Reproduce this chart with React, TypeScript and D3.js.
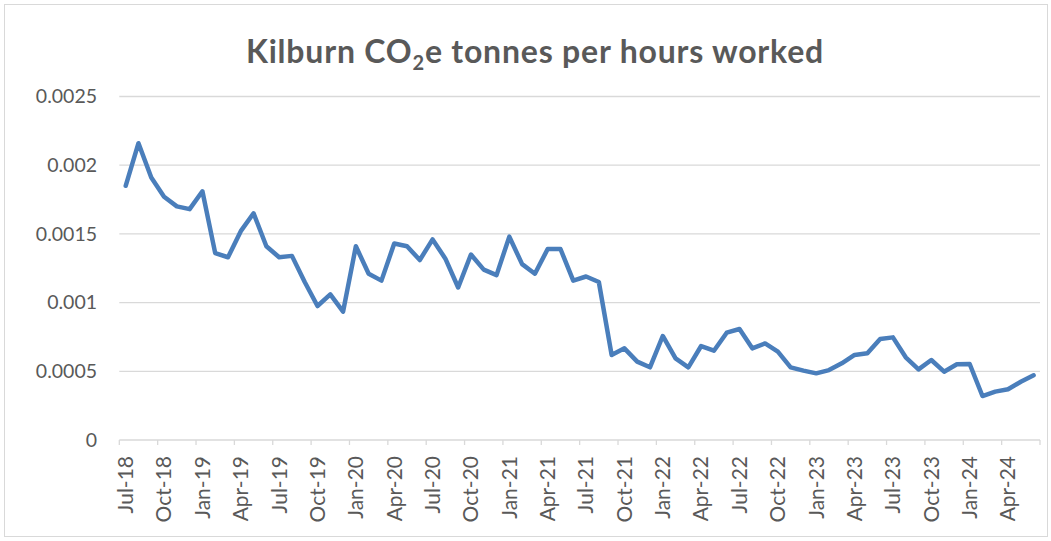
import React from "react";
import * as d3 from "d3";

const title = "Kilburn CO";
const titleSub = "2";
const titleRest = "e tonnes per hours worked";

const months: Date[] = d3.timeMonth.range(new Date(2018, 6, 1), new Date(2024, 6, 1));
const fmt = d3.timeFormat("%b-%y");

const values: number[] = [
  0.00185, 0.00216, 0.00191, 0.00177, 0.0017, 0.00168, 0.00181, 0.00136, 0.00133, 0.00152,
  0.00165, 0.00141, 0.00133, 0.00134, 0.00115, 0.000975, 0.00106, 0.000934, 0.00141, 0.00121,
  0.00116, 0.00143, 0.00141, 0.00131, 0.00146, 0.00132, 0.00111, 0.00135, 0.00124, 0.0012,
  0.00148, 0.00128, 0.00121, 0.00139, 0.00139, 0.00116, 0.00119, 0.00115, 0.000619, 0.000667,
  0.00057, 0.000529, 0.000757, 0.000594, 0.000529, 0.000684, 0.00065, 0.000781, 0.000808, 0.000667,
  0.000703, 0.000643, 0.000529, 0.000505, 0.000485, 0.000509, 0.000558, 0.000619, 0.000631, 0.000735,
  0.000747, 0.000602, 0.000514, 0.000582, 0.000497, 0.000551, 0.000553, 0.00032, 0.000352, 0.000369,
  0.000424, 0.000471,
];

const yTicks: number[] = [0, 0.0005, 0.001, 0.0015, 0.002, 0.0025];

export default function App() {
  const W = 1051, H = 541;
  const left = 119.3, right = 1040, top = 96.5, bottom = 440;
  const idx = months.map((_, i) => i);
  const x = d3.scaleBand<number>().domain(idx).range([left, right]).padding(0);
  const bw = x.bandwidth();
  const y = d3.scaleLinear().domain([0, 0.0025]).range([bottom, top]);
  const line = d3
    .line<number>()
    .x((_, i) => (x(i) as number) + bw / 2)
    .y((d) => y(d));
  const font = "Lato, 'Open Sans', sans-serif";
  const grey = "#595959";
  const tickIdx = idx.filter((i) => i % 3 === 0);
  return (
    <svg width={W} height={H} style={{ position: "absolute", left: 0, top: 0 }} fontFamily={font}>
      <rect x={0} y={0} width={W} height={H} fill="#fff" />
      <rect x={4.5} y={4.5} width={1043} height={532} fill="none" stroke="#d9d9d9" strokeWidth={1} />
      <text x={535} y={63} textAnchor="middle" fontSize={32} fontWeight={700} fill={grey} letterSpacing={0.8}>
        {title}
        <tspan fontSize={20} dy={7}>{titleSub}</tspan>
        <tspan dy={-7}>{titleRest}</tspan>
      </text>
      {yTicks.map((t) => (
        <g key={t}>
          {t > 0 && (
            <line x1={left} x2={right} y1={y(t)} y2={y(t)} stroke="#d9d9d9" strokeWidth={1.3} />
          )}
          <text x={97} y={y(t)} dy="0.35em" textAnchor="end" fontSize={19.5} fill={grey}>
            {String(t)}
          </text>
        </g>
      ))}
      <line x1={left} x2={right} y1={bottom} y2={bottom} stroke="#d9d9d9" strokeWidth={1.3} />
      {tickIdx.map((i) => (
        <line key={"t" + i} x1={x(i) as number} x2={x(i) as number} y1={bottom} y2={bottom + 5} stroke="#d9d9d9" strokeWidth={1.3} />
      ))}
      <line x1={right} x2={right} y1={bottom} y2={bottom + 5} stroke="#d9d9d9" strokeWidth={1.3} />
      {tickIdx.map((i) => {
        const cx = (x(i) as number) + bw / 2;
        return (
          <text
            key={"l" + i}
            transform={`translate(${cx},${bottom + 16}) rotate(-90)`}
            textAnchor="end"
            dy="0.35em"
            fontSize={21}
            fill={grey}
          >
            {fmt(months[i])}
          </text>
        );
      })}
      <path d={line(values) || ""} fill="none" stroke="#4a7ebb" strokeWidth={4.5} strokeLinejoin="round" strokeLinecap="round" />
    </svg>
  );
}
